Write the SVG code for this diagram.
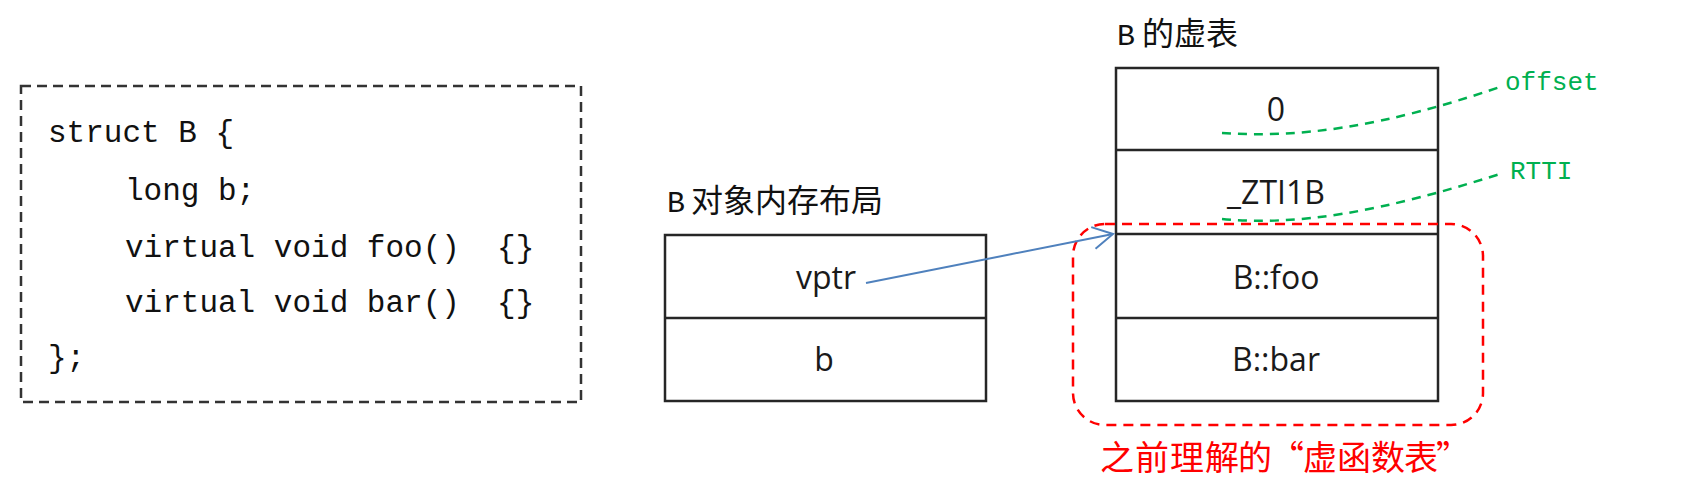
<svg xmlns="http://www.w3.org/2000/svg" width="1696" height="490" viewBox="0 0 1696 490">
<style>
.box{fill:#fff;stroke:#262626;stroke-width:2.5}
.div{stroke:#262626;stroke-width:2.5}
.code{font-family:"Liberation Mono",monospace;font-size:31px;fill:#111}
.cell{font-family:"Open Sans","Liberation Sans",sans-serif;font-size:32px;fill:#1a1a1a;text-anchor:middle}
.cjk{font-family:"Noto Sans CJK SC",sans-serif;font-size:32px;fill:#111}
.monoB{font-family:"Liberation Mono",monospace;font-size:30px}
.green{fill:none;stroke:#00B050;stroke-width:2.5;stroke-dasharray:9 7}
.glabel{font-family:"Liberation Mono",monospace;font-size:26px;fill:#00B050}
</style>
<defs>
<marker id="openArrow" markerUnits="userSpaceOnUse" markerWidth="30" markerHeight="30" viewBox="-24 -15 28 30" refX="0" refY="0" orient="auto">
<path d="M-20,-11 L0,0 L-20,11" fill="none" stroke="#4F81BD" stroke-width="2"/>
</marker>
</defs>
<rect width="1696" height="490" fill="#fff"/>

<g id="code-box">
<rect x="21" y="86" width="560" height="316" fill="none" stroke="#333" stroke-width="2.5" stroke-dasharray="10 6"/>
<text class="code" x="48" y="142" xml:space="preserve">struct B {</text>
<text class="code" x="125" y="200" xml:space="preserve">long b;</text>
<text class="code" x="125" y="257" xml:space="preserve">virtual void foo()  {}</text>
<text class="code" x="125" y="312" xml:space="preserve">virtual void bar()  {}</text>
<text class="code" x="48" y="367" xml:space="preserve">};</text>
</g>

<g id="object-layout">
<text class="cjk" y="212"><tspan class="monoB" x="667">B</tspan><tspan x="691">对象内存布局</tspan></text>
<rect class="box" x="665" y="235" width="321" height="166"/>
<line class="div" x1="665" y1="318" x2="986" y2="318"/>
<text class="cell" x="826" y="289">vptr</text>
<text class="cell" x="824" y="371">b</text>
</g>

<g id="vtable">
<text class="cjk" y="45"><tspan class="monoB" x="1117">B</tspan><tspan x="1142">的虚表</tspan></text>
<rect class="box" x="1116" y="68" width="322" height="333"/>
<line class="div" x1="1116" y1="150" x2="1438" y2="150"/>
<line class="div" x1="1116" y1="234" x2="1438" y2="234"/>
<line class="div" x1="1116" y1="318" x2="1438" y2="318"/>
<text class="cell" x="1276" y="121">0</text>
<text class="cell" x="1276" y="204">_ZTI1B</text>
<text class="cell" x="1276" y="289">B::foo</text>
<text class="cell" x="1276" y="371">B::bar</text>
</g>

<g id="vfunc-region">
<rect x="1073" y="224" width="410" height="201" rx="32" ry="32" fill="none" stroke="#FF0000" stroke-width="2.5" stroke-dasharray="10 7"/>
<text font-family="Noto Sans CJK SC, sans-serif" font-size="34" fill="#FF0000" y="470" x="1100 1135 1170 1205 1238 1270 1303 1337 1371 1404 1436">之前理解的“虚函数表”</text>
</g>

<g id="annotations">
<text class="glabel" x="1505" y="90">offset</text>
<text class="glabel" x="1510" y="179">RTTI</text>
</g>

<g id="connectors">
<path d="M866,283 L1113,234" fill="none" stroke="#4F81BD" stroke-width="2" marker-end="url(#openArrow)"/>
<path class="green" d="M1222,133 C1300,138 1380,128 1503,86"/>
<path class="green" d="M1222,219 C1300,226 1380,212 1500,174"/>
</g>
</svg>
